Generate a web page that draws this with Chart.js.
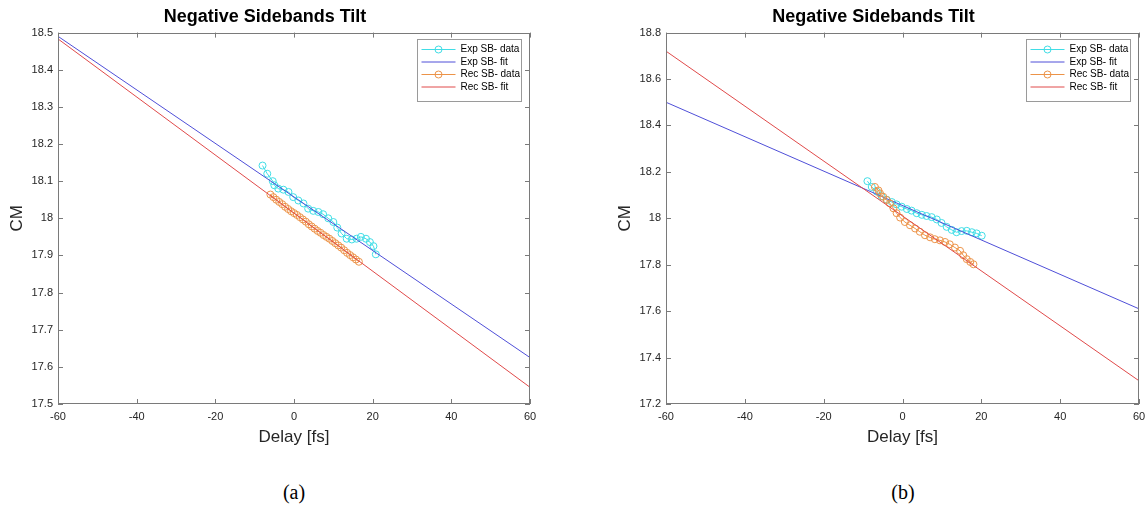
<!DOCTYPE html>
<html>
<head>
<meta charset="utf-8">
<title>Negative Sidebands Tilt</title>
<script src="https://cdn.jsdelivr.net/npm/chart.js@4.4.0/dist/chart.umd.min.js"></script>
<style>
    body { margin: 0; width: 1145px; height: 508px; overflow: hidden; background: #fff; position: relative; }
    .panel { position: absolute; top: 0; }
    .caption { position: absolute; top: 481px; transform: translateX(-50%); font-family: "Liberation Serif", "Times New Roman", serif; font-size: 20px; color: #000; }
</style>
</head>
<body>
<canvas id="chartA" class="panel" style="left:0px" width="545" height="450"></canvas>
<canvas id="chartB" class="panel" style="left:580px" width="580" height="450"></canvas>
<div class="caption" style="left:294px">(a)</div>
<div class="caption" style="left:903px">(b)</div>
<script>
// panel (a)
const expDelayA = [-8.0, -6.8, -5.4, -5.0, -4.0, -2.7, -1.4, -0.2, 1.1, 2.4, 3.6, 4.9, 6.2, 7.4, 8.7, 10.0, 11.0, 12.1, 13.4, 14.7, 15.9, 17.0, 18.3, 19.3, 20.2, 20.8];
const expCmA = [18.142, 18.120, 18.100, 18.089, 18.080, 18.077, 18.071, 18.057, 18.048, 18.040, 18.026, 18.020, 18.017, 18.011, 18.000, 17.990, 17.975, 17.959, 17.945, 17.943, 17.945, 17.950, 17.945, 17.936, 17.925, 17.903];
const recDelayA = [-6.0, -5.25, -4.5, -3.75, -3.0, -2.25, -1.5, -0.75, 0, 0.75, 1.5, 2.25, 3.0, 3.75, 4.5, 5.25, 6.0, 6.75, 7.5, 8.25, 9.0, 9.75, 10.5, 11.25, 12.0, 12.75, 13.5, 14.25, 15.0, 15.75, 16.5];
const recCmA = [18.064, 18.057, 18.050, 18.044, 18.038, 18.031, 18.025, 18.019, 18.014, 18.009, 18.003, 17.997, 17.991, 17.984, 17.978, 17.972, 17.966, 17.961, 17.955, 17.950, 17.945, 17.939, 17.933, 17.927, 17.921, 17.914, 17.907, 17.901, 17.895, 17.889, 17.883];
const fitDelay = [-60, 60];
const expFitA = [18.490, 17.625];
const recFitA = [18.483, 17.545];

// panel (b)
const expDelayB = [-8.9, -7.8, -6.5, -5.3, -4.0, -2.7, -1.5, -0.2, 1.1, 2.3, 3.6, 4.9, 6.1, 7.4, 8.7, 9.9, 11.2, 12.5, 13.7, 15.0, 16.3, 17.6, 18.8, 20.1];
const expCmB = [18.160, 18.135, 18.115, 18.095, 18.080, 18.070, 18.060, 18.050, 18.040, 18.033, 18.022, 18.015, 18.010, 18.005, 17.995, 17.980, 17.963, 17.950, 17.940, 17.945, 17.946, 17.940, 17.935, 17.925];
const recDelayB = [-7.0, -6.1, -5.7, -4.9, -4.0, -3.2, -2.3, -1.5, -0.6, 0.6, 1.9, 3.2, 4.4, 5.7, 7.0, 8.2, 9.5, 10.8, 12.0, 13.3, 14.6, 15.4, 16.3, 17.2, 18.0];
const recCmB = [18.135, 18.120, 18.107, 18.093, 18.079, 18.064, 18.043, 18.022, 18.003, 17.984, 17.970, 17.956, 17.942, 17.927, 17.918, 17.910, 17.905, 17.898, 17.888, 17.874, 17.860, 17.841, 17.824, 17.812, 17.802];
const expFitB = [18.50, 17.61];
const recFitB = [18.72, 17.30];

const seriesLabels = ["Exp SB- data", "Exp SB- fit", "Rec SB- data", "Rec SB- fit"];
const xTicks = [-60, -40, -20, 0, 20, 40, 60];

const FONT = "'Liberation Sans', Arial, Helvetica, sans-serif";
const TEXT = "#262626";
const AXIS = "#7a7a7a";
const CYAN = "#40dde6";
const BLUE = "#4f4fd8";
const ORANGE = "#ec9348";
const RED = "#e04a4a";

function toPoints(xs, ys) {
    return xs.map((x, i) => ({ x: x, y: ys[i] }));
}

// MATLAB style box with inward ticks and a framed legend
const frameAndLegend = {
    id: "frameAndLegend",
    afterDatasetsDraw(chart) {
        const ctx = chart.ctx;
        const a = chart.chartArea;
        const xs = chart.scales.x;
        const ys = chart.scales.y;
        ctx.save();
        ctx.strokeStyle = AXIS;
        ctx.lineWidth = 1;
        ctx.strokeRect(Math.round(a.left) + 0.5, Math.round(a.top) + 0.5, Math.round(a.width) - 1, Math.round(a.height) - 1);
        ctx.beginPath();
        xs.ticks.forEach(t => {
            const px = Math.round(xs.getPixelForValue(t.value)) + 0.5;
            ctx.moveTo(px, a.bottom); ctx.lineTo(px, a.bottom - 5);
            ctx.moveTo(px, a.top); ctx.lineTo(px, a.top + 5);
        });
        ys.ticks.forEach(t => {
            const py = Math.round(ys.getPixelForValue(t.value)) + 0.5;
            ctx.moveTo(a.left, py); ctx.lineTo(a.left + 5, py);
            ctx.moveTo(a.right, py); ctx.lineTo(a.right - 5, py);
        });
        ctx.stroke();

        // legend
        const bw = 104, bh = 62;
        const bx = Math.round(a.right - 9 - bw) + 0.5;
        const by = Math.round(a.top + 6) + 0.5;
        ctx.fillStyle = "#fff";
        ctx.fillRect(bx, by, bw, bh);
        ctx.strokeStyle = "#9a9a9a";
        ctx.strokeRect(bx, by, bw, bh);
        ctx.font = "10px " + FONT;
        ctx.textBaseline = "middle";
        chart.data.datasets.forEach((ds, i) => {
            const ry = by + 10 + i * 12.5;
            ctx.strokeStyle = ds.borderColor;
            ctx.lineWidth = 1;
            ctx.beginPath();
            ctx.moveTo(bx + 4, ry); ctx.lineTo(bx + 38, ry);
            ctx.stroke();
            if (ds.pointRadius > 0) {
                ctx.beginPath();
                ctx.arc(bx + 21, ry, 3.5, 0, Math.PI * 2);
                ctx.stroke();
            }
            ctx.fillStyle = "#000";
            ctx.fillText(ds.label, bx + 43, ry);
        });
        ctx.restore();
    }
};

function createChart(id, expDelay, expCm, expFit, recDelay, recCm, recFit, yMin, yMax, yStep, padLeft, padRight) {
    const ctx = document.getElementById(id).getContext("2d");
    return new Chart(ctx, {
        type: "scatter",
        data: {
            datasets: [{
                label: seriesLabels[0],
                data: toPoints(expDelay, expCm),
                showLine: true,
                borderColor: CYAN,
                backgroundColor: "rgba(0,0,0,0)",
                borderWidth: 1,
                pointRadius: 3.5,
                pointBorderWidth: 1,
                order: 4,
            }, {
                label: seriesLabels[1],
                data: toPoints(fitDelay, expFit),
                showLine: true,
                borderColor: BLUE,
                borderWidth: 1,
                pointRadius: 0,
                order: 3,
            }, {
                label: seriesLabels[2],
                data: toPoints(recDelay, recCm),
                showLine: true,
                borderColor: ORANGE,
                backgroundColor: "rgba(0,0,0,0)",
                borderWidth: 1,
                pointRadius: 3.5,
                pointBorderWidth: 1,
                order: 2,
            }, {
                label: seriesLabels[3],
                data: toPoints(fitDelay, recFit),
                showLine: true,
                borderColor: RED,
                borderWidth: 1,
                pointRadius: 0,
                order: 1,
            }],
        },
        options: {
            responsive: false,
            animation: false,
            layout: { padding: { left: padLeft, right: padRight, top: 0, bottom: 0 } },
            plugins: {
                legend: { display: false },
                tooltip: { enabled: false },
                title: {
                    display: true,
                    text: "Negative Sidebands Tilt",
                    color: "#000",
                    font: { family: FONT, size: 18, weight: "bold" },
                    padding: { top: 6, bottom: 5 },
                },
            },
            scales: {
                x: {
                    type: "linear",
                    min: -60,
                    max: 60,
                    afterBuildTicks(scale) { scale.ticks = xTicks.map(v => ({ value: v })); },
                    ticks: { color: TEXT, padding: 6, font: { family: FONT, size: 11 } },
                    grid: { display: false, drawTicks: false },
                    border: { display: false },
                    title: { display: true, text: "Delay [fs]", color: TEXT, font: { family: FONT, size: 17 }, padding: { top: 0, bottom: 2 } },
                    afterFit(scale) { scale.height = 46; },
                },
                y: {
                    type: "linear",
                    min: yMin,
                    max: yMax,
                    ticks: {
                        stepSize: yStep,
                        color: TEXT,
                        padding: 5,
                        font: { family: FONT, size: 11 },
                        callback: v => String(+v.toFixed(2)),
                    },
                    grid: { display: false, drawTicks: false },
                    border: { display: false },
                    title: { display: true, text: "CM", color: TEXT, font: { family: FONT, size: 17 }, padding: { top: 7, bottom: 0 } },
                    afterFit(scale) { scale.width = 58; },
                },
            },
        },
        plugins: [frameAndLegend],
    });
}

createChart("chartA", expDelayA, expCmA, expFitA, recDelayA, recCmA, recFitA, 17.5, 18.5, 0.1, 0, 15);
createChart("chartB", expDelayB, expCmB, expFitB, recDelayB, recCmB, recFitB, 17.2, 18.8, 0.2, 28, 21);
</script>
</body>
</html>
